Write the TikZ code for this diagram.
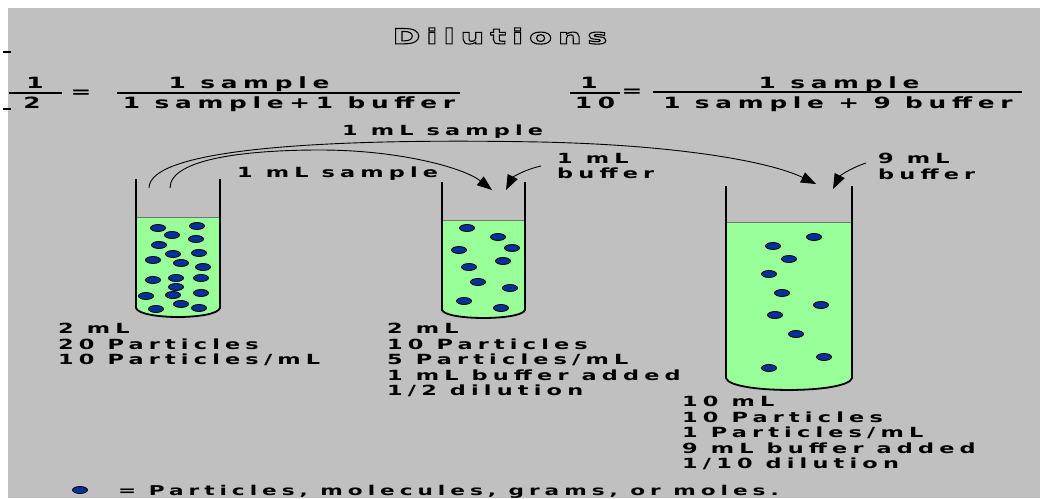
\documentclass[tikz,border=0pt]{standalone}
\usepackage{fontspec}
\newfontfamily\pixfont[FakeStretch=1.6,LetterSpace=37]{DejaVu Sans}
\newfontfamily\titlefont[FakeStretch=1.6,LetterSpace=27]{DejaVu Sans}
\usetikzlibrary{arrows.meta}
\definecolor{panelgray}{RGB}{192,192,192}
\definecolor{liquidgreen}{RGB}{153,255,153}
\definecolor{particleblue}{RGB}{0,51,153}
% hollow (stroked) glyphs for the heading
\newcommand{\outlined}[1]{\special{pdf:literal direct 1 Tr 1.1 w}#1\special{pdf:literal direct 0 Tr}}

\begin{document}
\begin{tikzpicture}[x=1pt, y=-1pt,
  labeltext/.style={font=\pixfont\bfseries\fontsize{14}{15.5}\selectfont, align=left, anchor=north west, inner sep=0pt},
  fractext/.style={font=\pixfont\bfseries\fontsize{15.5}{16}\selectfont, anchor=north, inner sep=0pt},
  fracbar/.style={line width=2.8pt},
  tubewall/.style={draw=black, line width=1.8pt},
  liquid/.style={fill=liquidgreen},
  surface/.style={draw=black!55, line width=1pt},
  particle/.style={fill=particleblue, draw=black, line width=0.8pt},
  arrow/.style={-{Triangle[length=15pt,width=11pt]}, line width=0.9pt},
]
\useasboundingbox (0,0) rectangle (1040,498);
\fill[panelgray] (8,8) rectangle (1040,498);

% heading
\node[font=\titlefont\bfseries\fontsize{21}{23}\selectfont, inner sep=0pt] (title) at (500,36) {\outlined{Dilutions}};

% little marks at the left edge
\draw[line width=1.5pt] (3,52) -- (11,52);
\draw[line width=1.5pt] (3,109) -- (11,109);

% 1/2 dilution ratio
\node[fractext] (halfnum) at (35,77) {1};
\draw[fracbar] (9,93) -- (62,93);
\node[fractext] (halfden) at (32,97) {2};
\node[fractext, anchor=center] (halfeq) at (81,94) {=};
\node[fractext] (halfsample) at (249,77) {1 sample};
\draw[fracbar] (117,93) -- (460,93);
\node[fractext] (halfmix) at (289,97) {1 sample+1 buffer};

% 1/10 dilution ratio
\node[fractext] (tenthnum) at (589,77) {1};
\draw[fracbar] (570,93) -- (620,93);
\node[fractext] (tenthden) at (595,97) {10};
\node[fractext, anchor=center] (tentheq) at (632,93) {=};
\node[fractext] (tenthsample) at (839,77) {1 sample};
\draw[fracbar] (653,92) -- (1022,92);
\node[fractext] (tenthmix) at (838,97) {1 sample + 9 buffer};

% tubes: liquid and surface
\foreach \xl/\xr/\ytop/\yliq/\ybot/\sag in {136/220/179/217/308/9, 442/525/182/220/310/8, 726/852/186/222/378/12}{
  \fill[liquid] (\xl,\yliq) -- (\xl,\ybot) .. controls (\xl+4,\ybot+1.33*\sag) and (\xr-4,\ybot+1.33*\sag) .. (\xr,\ybot) -- (\xr,\yliq) -- cycle;
  \draw[surface] (\xl,\yliq) -- (\xr,\yliq);
}

% particles
\foreach \px/\py in {158/228, 197/226, 172/235, 196/239, 159/245, 173/254, 199/253, 153/260, 181/263, 203/267,
                     153/280, 176/278, 201/278, 176/287, 146/296, 173/295, 201/293, 156/309, 181/304, 199/308,
                     467/228, 498/237, 512/248, 459/250, 469/267, 503/261, 478/282, 510/288, 464/301, 501/308,
                     814/237, 773/246, 789/259, 769/274, 782/293, 821/305, 775/315, 796/334, 824/357, 769/368}
  \filldraw[particle] (\px,\py) ellipse (7.5pt and 3.5pt);

% glass
\foreach \xl/\xr/\ytop/\ybot/\sag in {136/220/179/308/9, 442/525/182/310/8, 726/852/186/378/12}
  \draw[tubewall] (\xl,\ytop) -- (\xl,\ybot) .. controls (\xl+4,\ybot+1.33*\sag) and (\xr-4,\ybot+1.33*\sag) .. (\xr,\ybot) -- (\xr,\ytop);

% transfers between tubes
\coordinate (outerstart) at (149,188);
\coordinate (outertop) at (540,142);
\coordinate (outerend) at (816,184);
\coordinate (innerstart) at (170,188);
\coordinate (innertop) at (320,150);
\coordinate (innerend) at (492,190);
\coordinate (bufAstart) at (541,166);
\coordinate (bufAend) at (506,190);
\coordinate (bufBstart) at (866,163);
\coordinate (bufBend) at (833,189);

\draw[arrow] (outerstart) .. controls +(0,-40) and +(-210,-4) .. (outertop) .. controls +(140,3) and +(-45,-22) .. (outerend);
\draw[arrow] (innerstart) .. controls +(0,-30) and +(-70,0) .. (innertop) .. controls +(80,0) and +(-28,-22) .. (innerend);
\draw[arrow] (bufAstart) .. controls +(-18,4) and +(6,-12) .. (bufAend);
\draw[arrow] (bufBstart) .. controls +(-18,6) and +(6,-12) .. (bufBend);

\node[labeltext] (outerlabel) at (342,125) {1 mL sample};
\node[labeltext] (innerlabel) at (237,167) {1 mL sample};
\node[labeltext] (bufAlabel) at (557,153) {1 mL\\buffer};
\node[labeltext] (bufBlabel) at (878,153) {9 mL\\buffer};

% contents of each tube
\node[labeltext] (stockinfo) at (58,323) {2 mL\\20 Particles\\10 Particles/mL};
\node[labeltext] (halfinfo) at (387,323) {2 mL\\10 Particles\\5 Particles/mL\\1 mL buffer added\\1/2 dilution};
\node[labeltext] (tenthinfo) at (682,396) {10 mL\\10 Particles\\1 Particles/mL\\9 mL buffer added\\1/10 dilution};

% key
\filldraw[particle] (80,490) ellipse (7.5pt and 3.5pt);
\node[labeltext, font=\pixfont\bfseries\fontsize{13.5}{15}\selectfont] (key) at (118,485) {= Particles, molecules, grams, or moles.};
\end{tikzpicture}
\end{document}
